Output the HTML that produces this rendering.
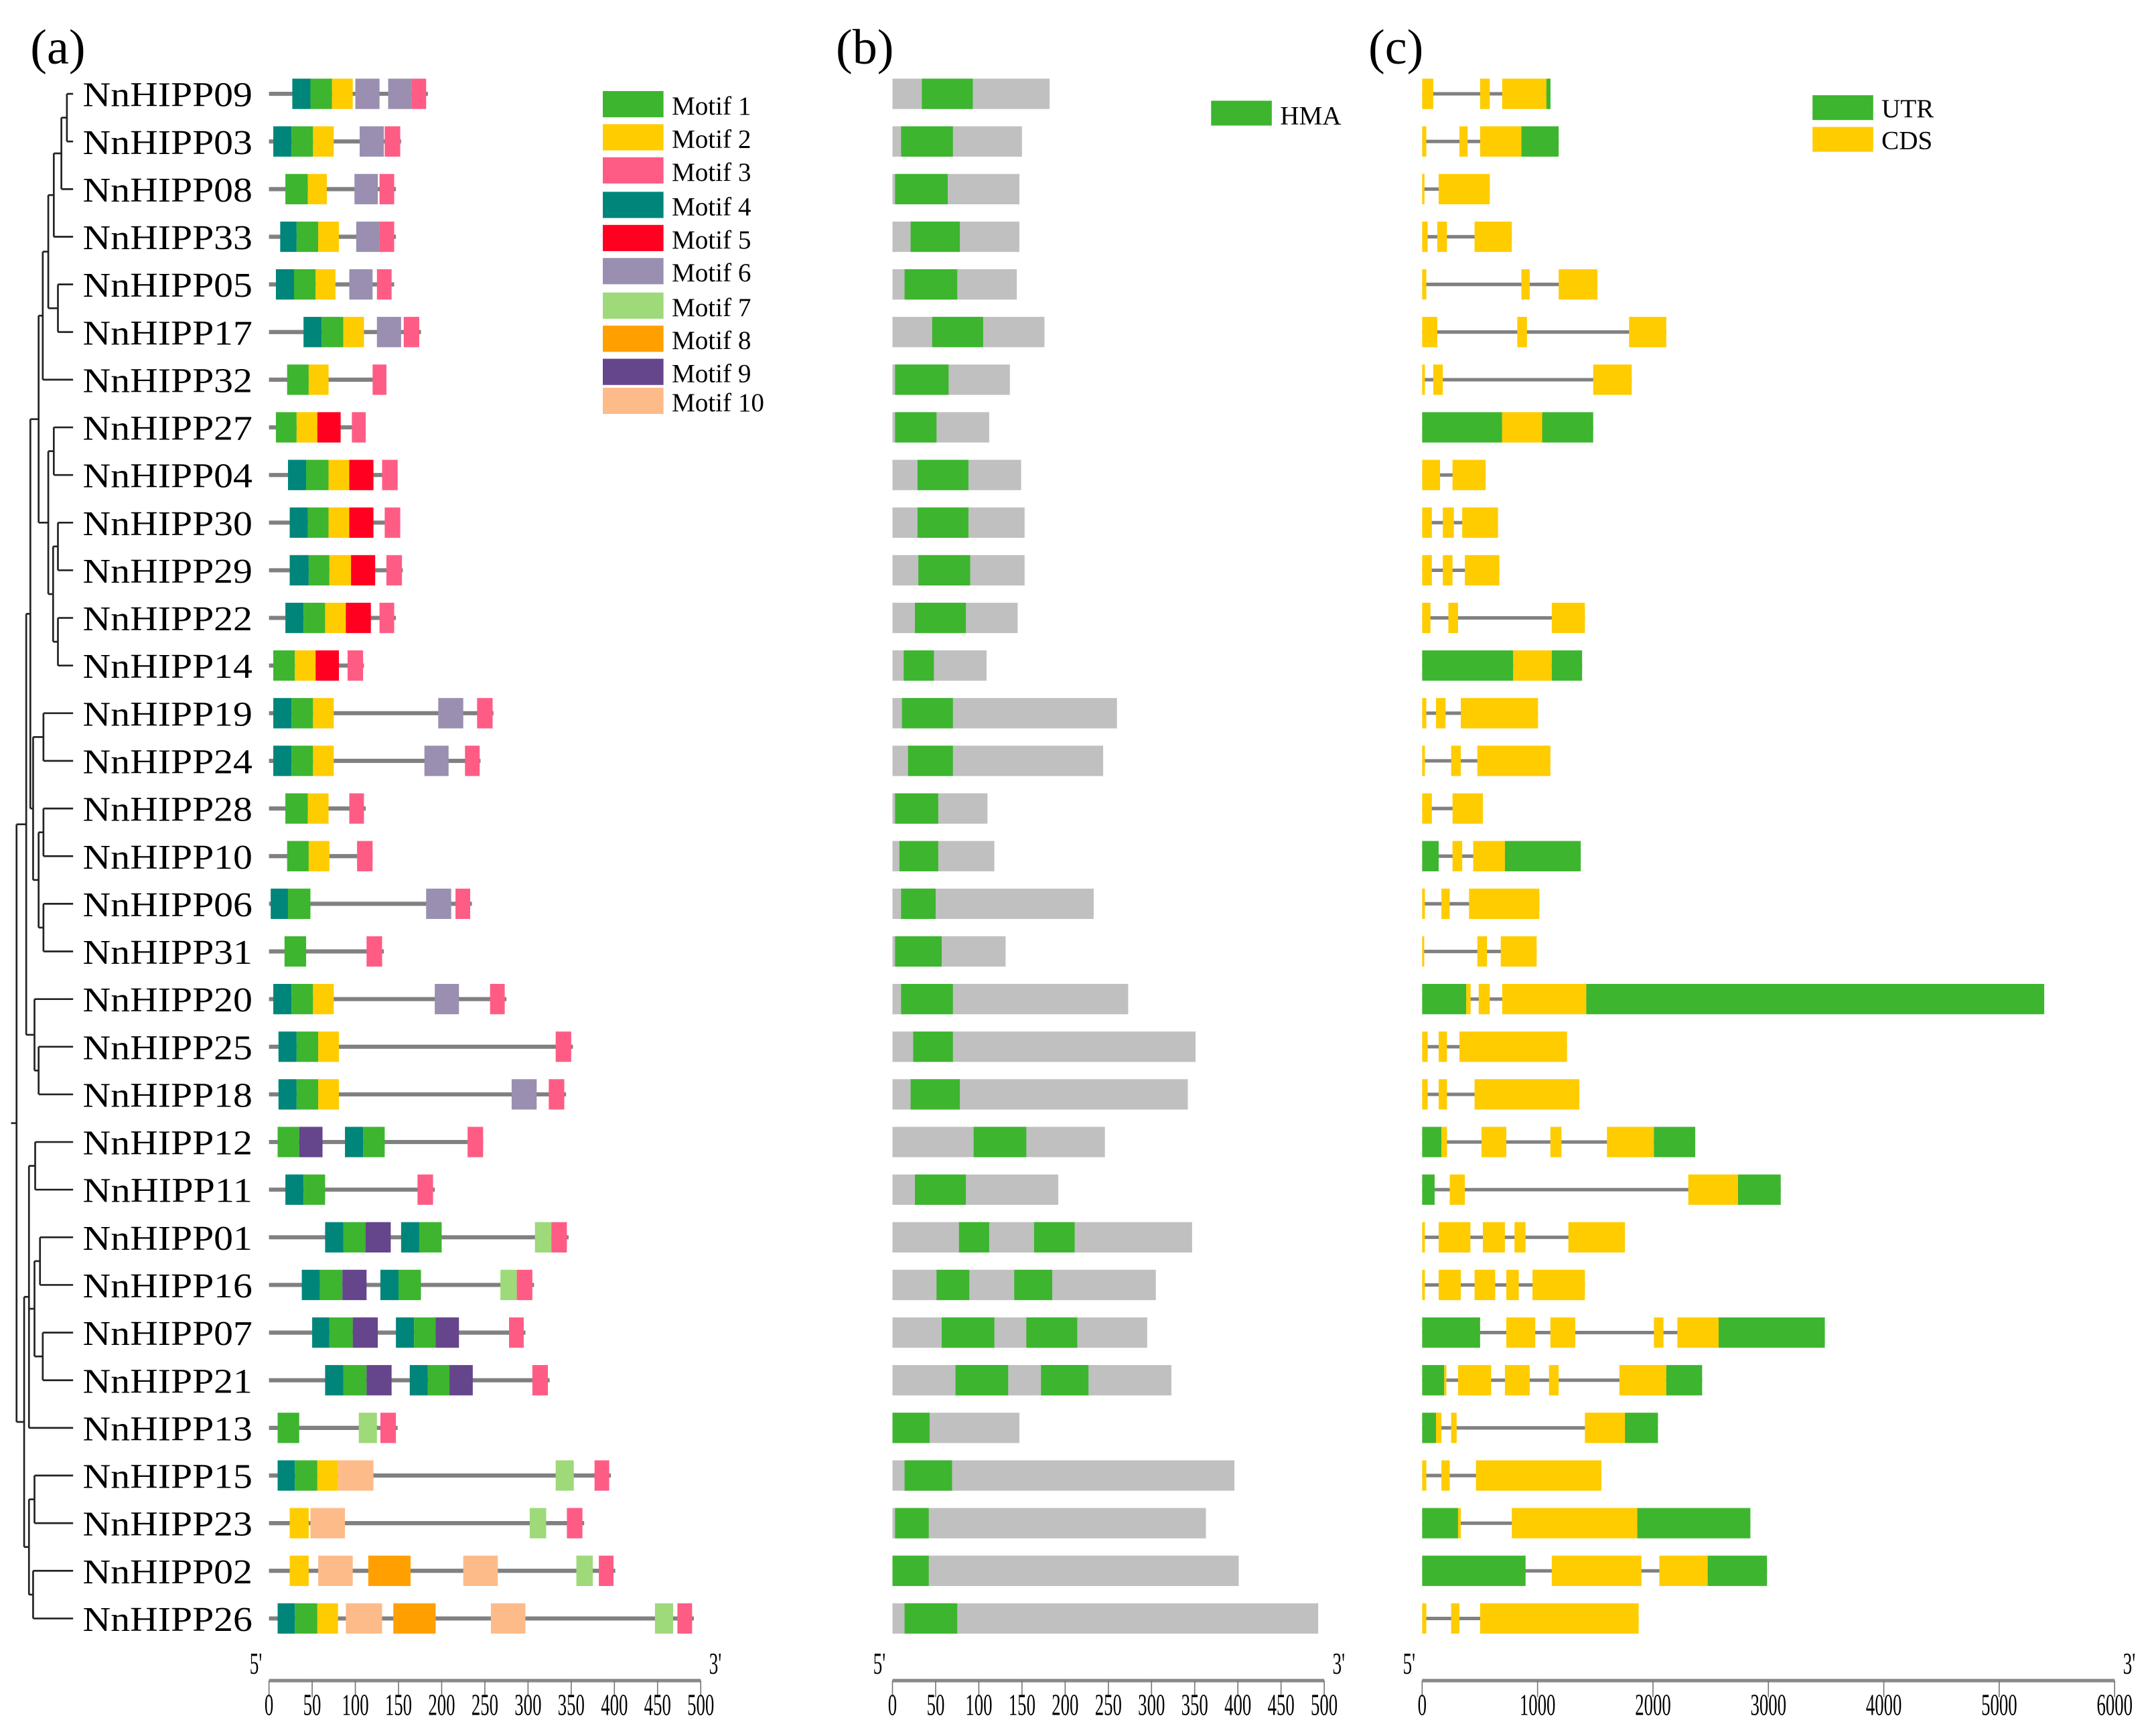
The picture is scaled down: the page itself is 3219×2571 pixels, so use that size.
<!DOCTYPE html>
<html><head><meta charset="utf-8"><style>
html,body{margin:0;padding:0;background:#fff;}
svg{display:block;font-family:"Liberation Serif",serif;}
</style></head><body>
<svg id="fig" width="3219" height="2571" viewBox="0 0 1563 1248" preserveAspectRatio="none" xmlns="http://www.w3.org/2000/svg">
<text x="22" y="46" font-size="36">(a)</text>
<text x="606" y="46" font-size="36">(b)</text>
<text x="992" y="46" font-size="36">(c)</text>
<g id="tree"></g>
<g id="labels"></g>
<g id="pa"></g>
<g id="pb"></g>
<g id="pc"></g>
<g id="leg"></g>
<g id="axes"></g>
</svg>
<script>
const genes = ["NnHIPP09","NnHIPP03","NnHIPP08","NnHIPP33","NnHIPP05","NnHIPP17","NnHIPP32","NnHIPP27","NnHIPP04","NnHIPP30","NnHIPP29","NnHIPP22","NnHIPP14","NnHIPP19","NnHIPP24","NnHIPP28","NnHIPP10","NnHIPP06","NnHIPP31","NnHIPP20","NnHIPP25","NnHIPP18","NnHIPP12","NnHIPP11","NnHIPP01","NnHIPP16","NnHIPP07","NnHIPP21","NnHIPP13","NnHIPP15","NnHIPP23","NnHIPP02","NnHIPP26"];
const motifColors = ["#3db52f","#ffcc00","#ff5c85","#00857a","#ff0020","#9a8fb0","#9ed97a","#ffa000","#65458c","#fdbb8a"];
const motifNames = ["Motif 1","Motif 2","Motif 3","Motif 4","Motif 5","Motif 6","Motif 7","Motif 8","Motif 9","Motif 10"];
const proteinLen = [184,153,147,147,145,176,136,112,149,152,155,147,110,260,245,112,120,235,133,275,352,344,248,192,347,307,297,325,149,396,365,401,492];
const motifs = [
 [[3,27,48],[0,48,73],[1,73,97],[5,100,128],[5,138,165],[2,165,182]],
 [[3,5,26],[0,26,51],[1,51,75],[5,105,133],[2,134,152]],
 [[0,19,45],[1,45,67],[5,99,126],[2,128,145]],
 [[3,13,32],[0,32,57],[1,57,81],[5,101,128],[2,128,145]],
 [[3,8,29],[0,29,54],[1,54,77],[5,93,120],[2,125,142]],
 [[3,40,61],[0,61,86],[1,86,110],[5,125,153],[2,156,174]],
 [[0,21,46],[1,46,69],[2,120,136]],
 [[0,8,32],[1,32,56],[4,56,83],[2,96,112]],
 [[3,22,43],[0,43,69],[1,69,93],[4,93,121],[2,131,149]],
 [[3,24,45],[0,45,69],[1,69,93],[4,93,121],[2,134,152]],
 [[3,24,46],[0,46,70],[1,70,95],[4,95,123],[2,136,154]],
 [[3,19,40],[0,40,65],[1,65,89],[4,89,118],[2,128,145]],
 [[0,5,30],[1,30,54],[4,54,81],[2,91,109]],
 [[3,5,26],[0,26,51],[1,51,75],[5,196,225],[2,241,259]],
 [[3,5,26],[0,26,51],[1,51,75],[5,180,208],[2,227,244]],
 [[0,19,45],[1,45,69],[2,93,110]],
 [[0,21,46],[1,46,70],[2,102,120]],
 [[3,2,22],[0,22,48],[5,182,211],[2,216,233]],
 [[0,18,43],[2,113,131]],
 [[3,5,26],[0,26,51],[1,51,75],[5,192,220],[2,256,273]],
 [[3,11,32],[0,32,57],[1,57,81],[2,332,350]],
 [[3,11,32],[0,32,57],[1,57,81],[5,281,310],[2,324,342]],
 [[0,10,35],[8,35,62],[3,88,109],[0,109,134],[2,230,248]],
 [[3,19,40],[0,40,65],[2,172,190]],
 [[3,65,86],[0,86,112],[8,112,141],[3,153,174],[0,174,200],[6,308,327],[2,327,345]],
 [[3,38,59],[0,59,85],[8,85,113],[3,129,150],[0,150,176],[6,268,287],[2,287,305]],
 [[3,50,70],[0,70,97],[8,97,126],[3,147,168],[0,168,193],[8,193,220],[2,278,295]],
 [[3,65,86],[0,86,113],[8,113,142],[3,163,184],[0,184,209],[8,209,236],[2,305,323]],
 [[0,10,35],[6,104,125],[2,129,147]],
 [[3,10,30],[0,30,56],[1,56,80],[9,80,121],[6,332,353],[2,377,394]],
 [[1,24,46],[9,48,88],[6,302,321],[2,345,363]],
 [[1,24,46],[9,57,97],[7,115,164],[9,225,265],[6,356,375],[2,382,399]],
 [[3,10,30],[0,30,56],[1,56,80],[9,89,131],[7,144,193],[9,257,297],[6,447,468],[2,473,490]]
];
const domainLen = [182,150,147,147,144,176,136,112,149,153,153,145,109,260,244,110,118,233,131,273,351,342,246,192,347,305,295,323,147,396,363,401,493];
const hma = [
 [[34,93]],[[10,70]],[[3,64]],[[21,78]],[[14,75]],[[46,105]],[[3,65]],[[3,51]],[[29,88]],[[29,88]],[[30,90]],[[26,85]],[[13,48]],
 [[11,70]],[[18,70]],[[3,53]],[[8,53]],[[10,50]],[[3,57]],[[10,70]],[[24,70]],[[21,78]],[[94,155]],[[26,85]],
 [[77,112],[164,211]],[[51,89],[141,185]],[[57,118],[155,214]],[[73,134],[172,227]],[[0,43]],[[14,69]],[[3,42]],[[0,42]],[[14,75]]
];
const exons = [
 [[0,96,"C"],[502,586,"C"],[693,1076,"C"],[1076,1112,"U"]],
 [[0,36,"C"],[323,394,"C"],[502,860,"C"],[860,1183,"U"]],
 [[0,20,"C"],[143,586,"C"]],
 [[0,48,"C"],[131,215,"C"],[454,777,"C"]],
 [[0,36,"C"],[860,932,"C"],[1183,1518,"C"]],
 [[0,131,"C"],[824,908,"C"],[1793,2115,"C"]],
 [[0,24,"C"],[96,179,"C"],[1482,1816,"C"]],
 [[0,693,"U"],[693,1040,"C"],[1040,1482,"U"]],
 [[0,155,"C"],[263,550,"C"]],
 [[0,84,"C"],[179,275,"C"],[347,657,"C"]],
 [[0,84,"C"],[179,263,"C"],[370,669,"C"]],
 [[0,72,"C"],[227,311,"C"],[1123,1410,"C"]],
 [[0,789,"U"],[789,1123,"C"],[1123,1386,"U"]],
 [[0,36,"C"],[120,203,"C"],[335,1004,"C"]],
 [[0,24,"C"],[251,335,"C"],[478,1111,"C"]],
 [[0,84,"C"],[263,526,"C"]],
 [[0,143,"U"],[263,347,"C"],[442,717,"C"],[717,1374,"U"]],
 [[0,24,"C"],[167,239,"C"],[406,1016,"C"]],
 [[0,12,"C"],[478,562,"C"],[681,992,"C"]],
 [[0,382,"U"],[382,420,"C"],[490,586,"C"],[693,1422,"C"],[1422,5390,"U"]],
 [[0,48,"C"],[143,215,"C"],[323,1255,"C"]],
 [[0,48,"C"],[143,215,"C"],[454,1362,"C"]],
 [[0,167,"U"],[167,215,"C"],[514,729,"C"],[1111,1207,"C"],[1601,2008,"C"],[2008,2366,"U"]],
 [[0,108,"U"],[239,370,"C"],[2306,2737,"C"],[2737,3107,"U"]],
 [[0,24,"C"],[143,418,"C"],[526,717,"C"],[800,896,"C"],[1267,1757,"C"]],
 [[0,24,"C"],[143,335,"C"],[454,633,"C"],[729,837,"C"],[956,1410,"C"]],
 [[0,502,"U"],[729,980,"C"],[1111,1327,"C"],[2008,2091,"C"],[2211,2569,"C"],[2569,3489,"U"]],
 [[0,191,"U"],[191,210,"C"],[311,598,"C"],[717,932,"C"],[1099,1183,"C"],[1709,2115,"C"],[2115,2426,"U"]],
 [[0,120,"U"],[120,167,"C"],[251,299,"C"],[1410,1757,"C"],[1757,2043,"U"]],
 [[0,36,"C"],[167,239,"C"],[466,1553,"C"]],
 [[0,311,"U"],[311,335,"C"],[777,1864,"C"],[1864,2844,"U"]],
 [[0,896,"U"],[1123,1900,"C"],[2055,2474,"C"],[2474,2988,"U"]],
 [[0,36,"C"],[251,323,"C"],[502,1876,"C"]]
];
const aaTicks = [0,50,100,150,200,250,300,350,400,450,500];
const bpTicks = [0,1000,2000,3000,4000,5000,6000];

const NS = "http://www.w3.org/2000/svg";
function mk(tag, attrs, parent){const e=document.createElementNS(NS,tag);for(const k in attrs)e.setAttribute(k,attrs[k]);parent.appendChild(e);return e;}
const rowY = i => 68 + i*34.53;
const xa = v => 195 + v*0.626;
const xb = v => 647 + v*0.626;
const xc = v => 1031 + v*(502/6000);
const BH = 11;

const gLab=document.getElementById('labels'), ga=document.getElementById('pa'), gb=document.getElementById('pb'), gc=document.getElementById('pc');
genes.forEach((g,i)=>{
  const y=rowY(i);
  const t=mk('text',{x:60,y:y+9,'font-size':25,textLength:123,lengthAdjust:'spacingAndGlyphs'},gLab);
  t.textContent=g;
  
  
  const l=mk('line',{x1:xa(0),x2:xa(proteinLen[i]),y1:y,y2:y,stroke:'#808080','stroke-width':3},ga);
  
  
  motifs[i].forEach(m=>{
    const r=mk('rect',{x:xa(m[1]),y:y-BH,width:xa(m[2])-xa(m[1]),height:2*BH,fill:motifColors[m[0]]},ga);
    
    
  });
  const rb=mk('rect',{x:xb(0),y:y-BH,width:xb(domainLen[i])-xb(0),height:2*BH,fill:'#c0c0c0'},gb);
  
  
  hma[i].forEach(h=>{
    const r=mk('rect',{x:xb(h[0]),y:y-BH,width:xb(h[1])-xb(h[0]),height:2*BH,fill:'#3db52f'},gb);
    
    
  });
  const ex=exons[i]; const last=ex[ex.length-1][1];
  const lc=mk('line',{x1:xc(0),x2:xc(last),y1:y,y2:y,stroke:'#808080','stroke-width':2.5},gc);
  
  
  ex.forEach(e=>{
    const r=mk('rect',{x:xc(e[0]),y:y-BH,width:Math.max(1.5,xc(e[1])-xc(e[0])),height:2*BH,fill:e[2]==='U'?'#3db52f':'#ffcc00'},gc);
    
    
  });
});

const tree=[12,[19,[22,[28,[31,[35,[39,[44.5,[48.5,0,1],2],3],[42,4,5]],6],[35,[39,7,8],[38.5,[42,9,10],[42,11,12]]]],[24,[31.5,13,14],[28,[31.5,15,16],[31.5,17,18]]]],[25,19,[28,20,21]]],[17.5,[21,[25.5,22,23],[25,[29,24,25],[31,26,27]],28],[21,[25,29,30],[24,31,32]]]];
const gt=document.getElementById('tree');
function draw(n){
  if(typeof n==='number') return {y:rowY(n),x:53};
  const x=n[0]; const kids=n.slice(1).map(draw);
  kids.forEach(k=>{mk('line',{x1:x,x2:k.x,y1:k.y,y2:k.y,stroke:'#222','stroke-width':1.3},gt);});
  const ys=kids.map(k=>k.y);
  mk('line',{x1:x,x2:x,y1:Math.min(...ys),y2:Math.max(...ys),stroke:'#222','stroke-width':1.3},gt);
  return {x:x,y:(Math.min(...ys)+Math.max(...ys))/2};
}
const rt=draw(tree);
mk('line',{x1:8,x2:rt.x,y1:rt.y,y2:rt.y,stroke:'#222','stroke-width':1.3},gt);

const gl=document.getElementById('leg');
const legY=[66,90,114,139,163,187,212,236,260,281];
motifNames.forEach((n,i)=>{
  const r=mk('rect',{x:437,y:legY[i],width:44,height:19,fill:motifColors[i]},gl);
  
  
  const t=mk('text',{x:487,y:legY[i]+17,'font-size':19},gl);
  t.textContent=n;
  
  
});
[[878,73,'#3db52f','HMA',928,90],[1314,69,'#3db52f','UTR',1364,85],[1314,92,'#ffcc00','CDS',1364,108]].forEach(d=>{
  const r=mk('rect',{x:d[0],y:d[1],width:44,height:18,fill:d[2]},gl);
  
  
  const t=mk('text',{x:d[4],y:d[5],'font-size':19},gl);
  t.textContent=d[3];
  
  
});

const gx=document.getElementById('axes');
function axis(name,ticks,f){
  const ay=1218;
  const l=mk('line',{x1:f(ticks[0]),x2:f(ticks[ticks.length-1]),y1:ay,y2:ay,stroke:'#888','stroke-width':2.5},gx);
  
  
  ticks.forEach(v=>{
    mk('line',{x1:f(v),x2:f(v),y1:ay,y2:ay+12,stroke:'#777','stroke-width':0.8},gx);
    const s=String(v);
    const t=mk('text',{x:f(v),y:1243,'font-size':22,'text-anchor':'middle',textLength:s.length*6.5,lengthAdjust:'spacingAndGlyphs'},gx);
    t.textContent=s;
    
    
  });
  const a=mk('text',{x:f(ticks[0])-14,y:1213,'font-size':22,textLength:9,lengthAdjust:'spacingAndGlyphs'},gx);
  a.textContent="5'";
  
  
  const b=mk('text',{x:f(ticks[ticks.length-1])+6,y:1213,'font-size':22,textLength:9,lengthAdjust:'spacingAndGlyphs'},gx);
  b.textContent="3'";
  
  
}
axis('motif',aaTicks,xa);
axis('domain',aaTicks,xb);
axis('gene',bpTicks,xc);
</script>
</body></html>
